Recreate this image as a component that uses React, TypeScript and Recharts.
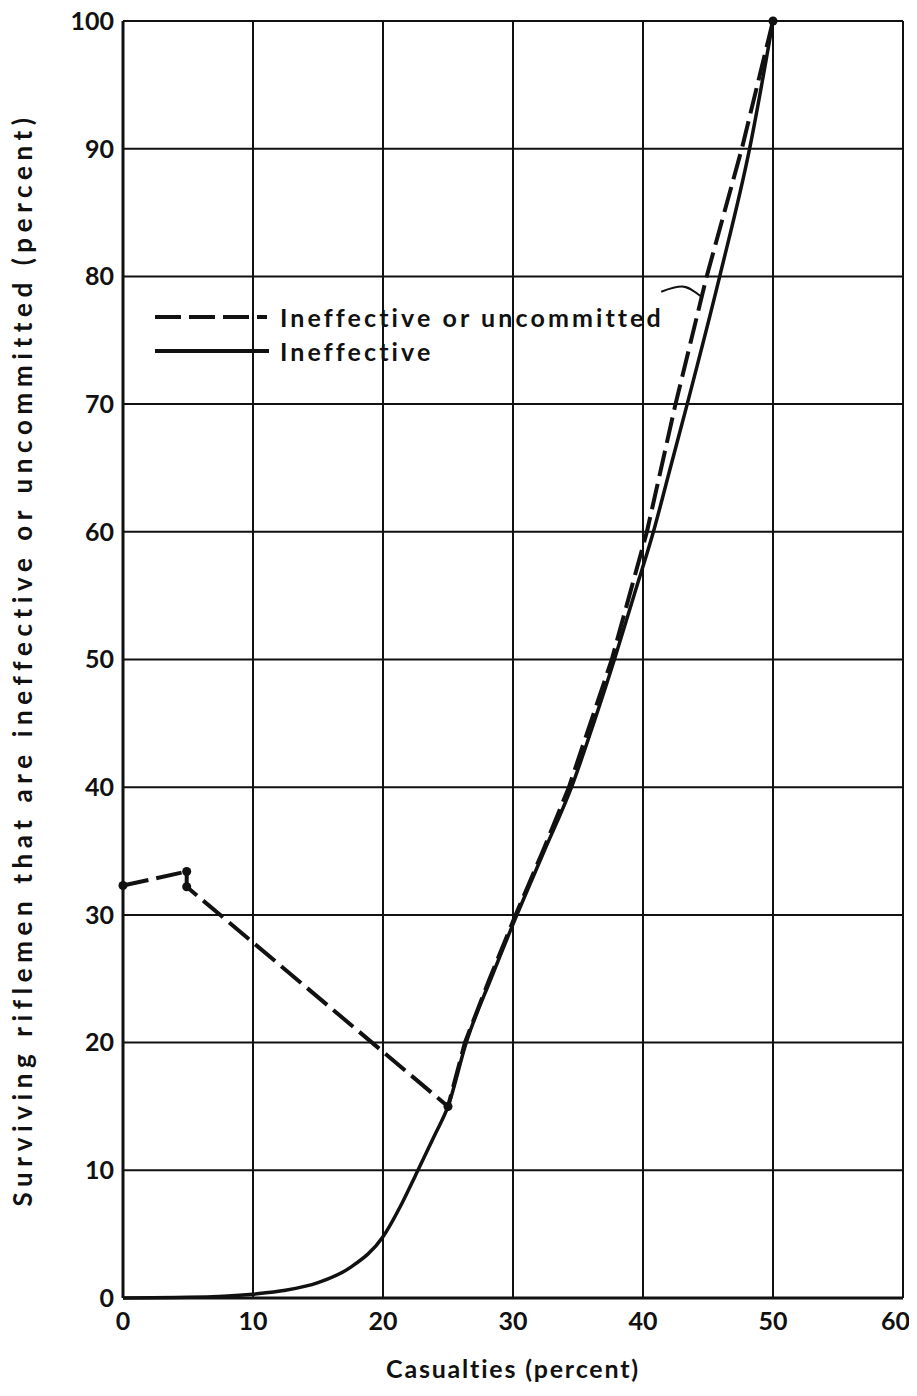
import { LineChart, Line, XAxis, YAxis, CartesianGrid, Scatter, Legend } from 'recharts';

const xTicks = [0, 10, 20, 30, 40, 50, 60];
const yTicks = [0, 10, 20, 30, 40, 50, 60, 70, 80, 90, 100];

// Ineffective (solid)
const ineffective = [
  { x: 0, y: 0 },
  { x: 5, y: 0.05 },
  { x: 10, y: 0.3 },
  { x: 12.5, y: 0.6 },
  { x: 15, y: 1.2 },
  { x: 17.5, y: 2.4 },
  { x: 20, y: 4.8 },
  { x: 21.5, y: 7.5 },
  { x: 22.5, y: 9.6 },
  { x: 24, y: 12.8 },
  { x: 25, y: 15 },
  { x: 26.4, y: 20 },
  { x: 28.3, y: 25 },
  { x: 30.3, y: 30 },
  { x: 32.4, y: 35 },
  { x: 34.5, y: 40 },
  { x: 36.2, y: 45 },
  { x: 37.8, y: 50 },
  { x: 39.3, y: 55 },
  { x: 40.8, y: 60 },
  { x: 42.1, y: 65 },
  { x: 43.4, y: 70 },
  { x: 45.9, y: 80 },
  { x: 48.2, y: 90 },
  { x: 50, y: 100 },
];

// Ineffective or uncommitted (dashed)
const ineffectiveOrUncommitted = [
  { x: 0, y: 32.3 },
  { x: 4.9, y: 33.4 },
  { x: 4.9, y: 32.2 },
  { x: 25, y: 15 },
  { x: 26.3, y: 20 },
  { x: 28.2, y: 25 },
  { x: 30.2, y: 30 },
  { x: 32.3, y: 35 },
  { x: 34.3, y: 40 },
  { x: 37.6, y: 50 },
  { x: 40.3, y: 60 },
  { x: 42.5, y: 70 },
  { x: 44.9, y: 80 },
  { x: 47.6, y: 90 },
  { x: 50, y: 100 },
];

const markers = [
  { x: 0, y: 32.3 },
  { x: 4.9, y: 33.4 },
  { x: 4.9, y: 32.2 },
  { x: 25, y: 15 },
  { x: 50, y: 100 },
];

// leader from legend label to the curves
const leader = [
  { x: 41.4, y: 78.8 },
  { x: 43, y: 79.2 },
  { x: 44.5, y: 78.4 },
];

const font = 'Lato, "Open Sans", sans-serif';

const XTick = ({ x, y, payload }: any) => (
  <text
    x={x}
    y={y}
    dy={24}
    textAnchor={payload.value === 60 ? 'end' : 'middle'}
    dx={payload.value === 60 ? 7 : 0}
    fill='#111'
    fontSize={25}
    fontFamily={font}
    fontWeight={700}
  >
    {payload.value}
  </text>
);

const LegendBox = () => (
  <div style={{ fontFamily: font, fontWeight: 700, fontSize: 25, letterSpacing: 3.1, color: '#111', lineHeight: '34px' }}>
    <div style={{ display: 'flex', alignItems: 'center' }}>
      <svg width={125} height={10}>
        <line x1={0} y1={5} x2={112} y2={5} stroke='#111' strokeWidth={4} strokeDasharray='26 8' />
      </svg>
      <span>Ineffective or uncommitted</span>
    </div>
    <div style={{ display: 'flex', alignItems: 'center' }}>
      <svg width={125} height={10}>
        <line x1={0} y1={5} x2={114} y2={5} stroke='#111' strokeWidth={4} />
      </svg>
      <span>Ineffective</span>
    </div>
  </div>
);

const App = () => {
  return (
    <div style={{ width: 917, height: 1396, margin: -8 }}>
      <LineChart width={917} height={1396} margin={{ top: 21, right: 14, bottom: 30, left: 48 }}>
        <CartesianGrid stroke='#111' strokeWidth={2} />
        <XAxis
          type='number'
          dataKey='x'
          domain={[0, 60]}
          ticks={xTicks}
          tickLine={false}
          axisLine={{ stroke: '#111', strokeWidth: 3 }}
          tick={<XTick />}
          height={68}
          label={{
            value: 'Casualties (percent)',
            position: 'insideBottom',
            offset: -12,
            style: { letterSpacing: 1.8 },
            fill: '#111',
            fontSize: 25,
            fontFamily: font,
            fontWeight: 700,
          }}
        />
        <YAxis
          type='number'
          dataKey='y'
          domain={[0, 100]}
          ticks={yTicks}
          tickLine={false}
          axisLine={{ stroke: '#111', strokeWidth: 3 }}
          tick={{ fill: '#111', fontSize: 25, fontFamily: font, fontWeight: 700 }}
          tickMargin={3}
          width={75}
          label={{
            value: 'Surviving riflemen that are ineffective or uncommitted (percent)',
            angle: -90,
            position: 'insideLeft',
            offset: -25,
            style: { textAnchor: 'middle', letterSpacing: 5.6 },
            fill: '#111',
            fontSize: 26,
            fontFamily: font,
            fontWeight: 700,
          }}
        />
        <Legend
          layout='horizontal'
          verticalAlign='middle'
          align='center'
          content={<LegendBox />}
          wrapperStyle={{ position: 'absolute', left: 155, top: 300, width: 'auto', height: 'auto' }}
        />
        <Line
          data={ineffectiveOrUncommitted}
          dataKey='y'
          type='linear'
          stroke='#111'
          strokeWidth={4}
          strokeDasharray='26 8'
          dot={false}
          isAnimationActive={false}
          legendType='none'
        />
        <Line
          data={ineffective}
          dataKey='y'
          type='monotone'
          stroke='#111'
          strokeWidth={3.5}
          dot={false}
          isAnimationActive={false}
          legendType='none'
        />
        <Line
          data={leader}
          dataKey='y'
          type='monotone'
          stroke='#111'
          strokeWidth={2}
          dot={false}
          isAnimationActive={false}
          legendType='none'
        />
        <Scatter data={markers} dataKey='y' fill='#111' shape='circle' isAnimationActive={false} legendType='none' />
      </LineChart>
    </div>
  );
};

export default App;
